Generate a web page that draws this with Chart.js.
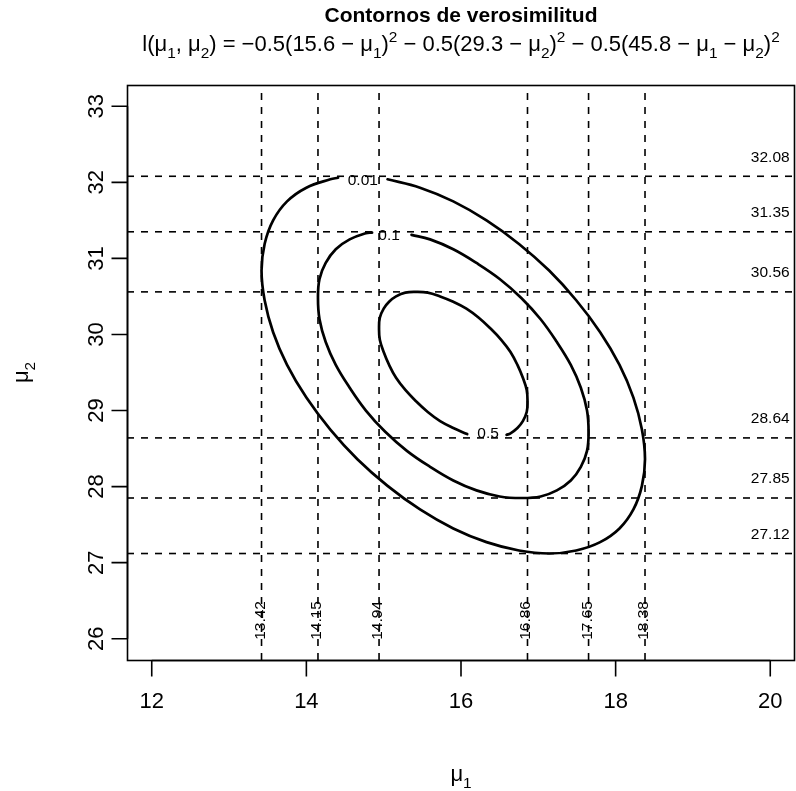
<!DOCTYPE html>
<html>
<head>
<meta charset="utf-8">
<script src="https://cdn.jsdelivr.net/npm/chart.js@4.4.1/dist/chart.umd.min.js"></script>
<style>
  html, body { margin: 0; padding: 0; background: #fff; }
</style>
</head>
<body>
<canvas id="contourChart" width="796" height="791"></canvas>
<script>
// contour curves (relative likelihood levels)
const levels = ['0.01', '0.1', '0.5'];
const curve001 = [[15.05,32.04],[15.47,31.93],[15.90,31.75],[16.33,31.50],[16.75,31.19],[17.14,30.84],[17.49,30.45],[17.80,30.03],[18.05,29.60],[18.23,29.17],[18.34,28.75],[18.38,28.36],[18.34,28.01],[18.23,27.70],[18.05,27.45],[17.80,27.27],[17.49,27.16],[17.14,27.12],[16.75,27.16],[16.33,27.27],[15.90,27.45],[15.47,27.70],[15.05,28.01],[14.66,28.36],[14.31,28.75],[14.00,29.17],[13.75,29.60],[13.57,30.03],[13.46,30.45],[13.42,30.84],[13.46,31.19],[13.57,31.50],[13.75,31.75],[14.00,31.93],[14.31,32.04],[14.41,32.06]];
const curve01 = [[15.36,31.31],[15.60,31.25],[15.90,31.12],[16.20,30.94],[16.50,30.73],[16.78,30.48],[17.03,30.20],[17.24,29.90],[17.42,29.60],[17.55,29.30],[17.63,29.00],[17.65,28.72],[17.63,28.47],[17.55,28.26],[17.42,28.08],[17.24,27.95],[17.03,27.87],[16.78,27.85],[16.50,27.87],[16.20,27.95],[15.90,28.08],[15.60,28.26],[15.30,28.47],[15.02,28.72],[14.77,29.00],[14.56,29.30],[14.38,29.60],[14.25,29.90],[14.17,30.20],[14.15,30.48],[14.17,30.73],[14.25,30.94],[14.38,31.12],[14.56,31.25],[14.77,31.33],[14.85,31.34]];
const curve05 = [[16.08,28.69],[15.90,28.77],[15.73,28.86],[15.57,28.98],[15.42,29.12],[15.28,29.27],[15.16,29.43],[15.07,29.60],[15.00,29.77],[14.95,29.93],[14.94,30.08],[14.95,30.22],[15.00,30.34],[15.07,30.43],[15.16,30.50],[15.28,30.55],[15.42,30.56],[15.57,30.55],[15.73,30.50],[15.90,30.43],[16.07,30.34],[16.23,30.22],[16.38,30.08],[16.52,29.93],[16.64,29.77],[16.73,29.60],[16.80,29.43],[16.85,29.27],[16.86,29.12],[16.85,28.98],[16.80,28.86],[16.73,28.77],[16.64,28.70],[16.59,28.68]];
// where each level label sits on its curve
const levelLabelAt = [[14.73,32.02],[15.07,31.30],[16.35,28.69]];

// interval limits (dashed lines)
const vLines = [13.42, 14.15, 14.94, 16.86, 17.65, 18.38];
const hLines = [27.12, 27.85, 28.64, 30.56, 31.35, 32.08];

// axes
const xTicks = [12, 14, 16, 18, 20];
const yTicks = [26, 27, 28, 29, 30, 31, 32, 33];
const xRange = [11.68, 20.32];
const yRange = [25.72, 33.28];

const FONT = '"Liberation Sans", Arial, Helvetica, sans-serif';

const titleText = 'Contornos de verosimilitud';
// l(mu1, mu2) expression, pieces: [text, 'sub' | 'sup' | '']
const formula = [
  ['l(\u03bc', ''], ['1', 'sub'], [', \u03bc', ''], ['2', 'sub'],
  [') = \u22120.5(15.6 \u2212 \u03bc', ''], ['1', 'sub'], [')', ''], ['2', 'sup'],
  [' \u2212 0.5(29.3 \u2212 \u03bc', ''], ['2', 'sub'], [')', ''], ['2', 'sup'],
  [' \u2212 0.5(45.8 \u2212 \u03bc', ''], ['1', 'sub'], [' \u2212 \u03bc', ''], ['2', 'sub'], [')', ''], ['2', 'sup']
];
const xTitle = [['\u03bc', ''], ['1', 'sub']];
const yTitle = [['\u03bc', ''], ['2', 'sub']];

function pieceFont(p, size) {
  const s = p[1] ? size * 0.7 : size;
  return s.toFixed(1) + 'px ' + FONT;
}

function mathWidth(c, parts, size) {
  let w = 0;
  parts.forEach(p => { c.font = pieceFont(p, size); w += c.measureText(p[0]).width; });
  return w;
}

// draws a piece list centred on cx, with baseline at by
function drawMath(c, parts, cx, by, size) {
  let x = cx - mathWidth(c, parts, size) / 2;
  c.textAlign = 'left';
  c.textBaseline = 'alphabetic';
  parts.forEach(p => {
    c.font = pieceFont(p, size);
    let dy = 0;
    if (p[1] === 'sub') dy = size * 0.3;
    if (p[1] === 'sup') dy = -size * 0.42;
    c.fillText(p[0], x, by + dy);
    x += c.measureText(p[0]).width;
  });
}

const lineStyle = { borderColor: '#000', pointRadius: 0, showLine: true, fill: false };

const datasets = [];
vLines.forEach(v => datasets.push(Object.assign({
  data: [{ x: v, y: yRange[0] }, { x: v, y: yRange[1] }],
  borderWidth: 1.6, borderDash: [7, 7]
}, lineStyle)));
hLines.forEach(v => datasets.push(Object.assign({
  data: [{ x: xRange[0], y: v }, { x: xRange[1], y: v }],
  borderWidth: 1.6, borderDash: [7, 7]
}, lineStyle)));
[curve001, curve01, curve05].forEach(cv => datasets.push(Object.assign({
  data: cv.map(p => ({ x: p[0], y: p[1] })),
  borderWidth: 2.7, tension: 0.4, borderCapStyle: 'round', borderJoinStyle: 'round'
}, lineStyle)));

// R style frame, axes and text
const rDecor = {
  id: 'rDecor',
  afterDraw(chart) {
    const c = chart.ctx;
    const a = chart.chartArea;
    const sx = chart.scales.x, sy = chart.scales.y;
    c.save();
    c.fillStyle = '#000';
    c.strokeStyle = '#000';

    // box
    c.lineWidth = 1.6;
    c.strokeRect(Math.round(a.left) + 0.5, Math.round(a.top) + 0.5,
      Math.round(a.right - a.left) - 1, Math.round(a.bottom - a.top));

    // x axis
    const bx = Math.round(a.bottom) + 0.5;
    c.beginPath();
    c.moveTo(sx.getPixelForValue(xTicks[0]), bx);
    c.lineTo(sx.getPixelForValue(xTicks[xTicks.length - 1]), bx);
    xTicks.forEach(t => {
      const px = sx.getPixelForValue(t);
      c.moveTo(px, bx); c.lineTo(px, bx + 16);
    });
    c.stroke();
    c.font = '22px ' + FONT;
    c.textAlign = 'center';
    c.textBaseline = 'alphabetic';
    xTicks.forEach(t => c.fillText(String(t), sx.getPixelForValue(t), 708));

    // y axis
    const lx = Math.round(a.left) + 0.5;
    c.beginPath();
    c.moveTo(lx, sy.getPixelForValue(yTicks[0]));
    c.lineTo(lx, sy.getPixelForValue(yTicks[yTicks.length - 1]));
    yTicks.forEach(t => {
      const py = sy.getPixelForValue(t);
      c.moveTo(lx, py); c.lineTo(lx - 16, py);
    });
    c.stroke();
    yTicks.forEach(t => {
      c.save();
      c.translate(103, sy.getPixelForValue(t));
      c.rotate(-Math.PI / 2);
      c.font = '22px ' + FONT;
      c.textAlign = 'center';
      c.fillText(String(t), 0, 0);
      c.restore();
    });

    // titles
    c.font = 'bold 21px ' + FONT;
    c.textAlign = 'center';
    c.fillText(titleText, (a.left + a.right) / 2, 22);
    drawMath(c, formula, (a.left + a.right) / 2, 51, 22);
    drawMath(c, xTitle, (a.left + a.right) / 2, 781, 22);
    c.save();
    c.translate(28, (a.top + a.bottom) / 2);
    c.rotate(-Math.PI / 2);
    drawMath(c, yTitle, 0, 0, 22);
    c.restore();

    // labels of the dashed lines
    c.font = '15.5px ' + FONT;
    c.textAlign = 'center';
    vLines.forEach(v => {
      c.save();
      c.translate(sx.getPixelForValue(v) + 3, sy.getPixelForValue(26.24));
      c.rotate(-Math.PI / 2);
      c.fillText(v.toFixed(2), 0, 0);
      c.restore();
    });
    hLines.forEach(v => {
      c.fillText(v.toFixed(2), sx.getPixelForValue(20), sy.getPixelForValue(v) - 14.5);
    });

    // contour level labels
    c.textBaseline = 'middle';
    levels.forEach((lv, i) => {
      c.fillText(lv, sx.getPixelForValue(levelLabelAt[i][0]), sy.getPixelForValue(levelLabelAt[i][1]));
    });
    c.restore();
  }
};

new Chart(document.getElementById('contourChart'), {
  type: 'scatter',
  data: { datasets: datasets },
  options: {
    responsive: false,
    devicePixelRatio: 1,
    animation: false,
    layout: { padding: { left: 127, right: 1, top: 85, bottom: 131 } },
    scales: {
      x: { type: 'linear', min: xRange[0], max: xRange[1], display: false },
      y: { type: 'linear', min: yRange[0], max: yRange[1], display: false }
    },
    plugins: { legend: { display: false }, tooltip: { enabled: false } }
  },
  plugins: [rDecor]
});
</script>
</body>
</html>
